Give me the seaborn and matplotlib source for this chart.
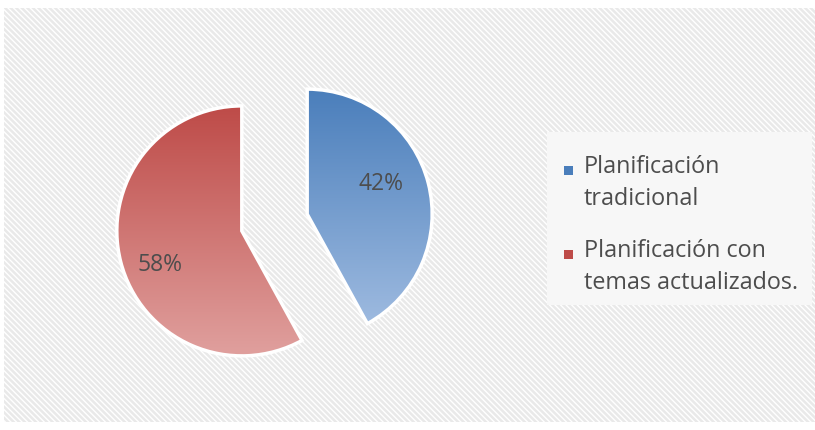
import numpy as np
import matplotlib
matplotlib.use("Agg")
import matplotlib.pyplot as plt
import seaborn as sns
from matplotlib.patches import Rectangle
from matplotlib.colors import LinearSegmentedColormap

sns.set_theme(style="white")
plt.rcParams['font.family'] = ['Open Sans', 'DejaVu Sans']
plt.rcParams['hatch.linewidth'] = 1.0

# datos
categorias = ['Planificación\ntradicional', 'Planificación con\ntemas actualizados.']
valores = [42, 58]
etiquetas = ['42%', '58%']
colores_top = ['#4a7ebb', '#be4b48']
colores_bottom = ['#a3bee2', '#e0a09e']

W, H = 815, 430
fig = plt.figure(figsize=(W / 100, H / 100), dpi=100)
fig.patch.set_facecolor('white')

# fondo rayado del area del grafico
fondo = Rectangle((4 / W, 8 / H), 811 / W, 414 / H, transform=fig.transFigure,
                  facecolor='#e9e9e9', edgecolor='white', hatch='\\\\\\\\\\\\', linewidth=0, zorder=-5)
fig.patches.append(fondo)

ax = fig.add_axes([99.5 / W, 32.5 / H, 350 / W, 350 / H])
ax.set_facecolor('none')
ax.set_zorder(2)

wedges, textos = ax.pie(valores, startangle=90, counterclock=False, explode=[0.27, 0.27],
                        colors=colores_top, wedgeprops=dict(edgecolor='white', linewidth=2.5))

# relleno degradado de cada porcion
for w, c1, c2 in zip(wedges, colores_top, colores_bottom):
    cmap = LinearSegmentedColormap.from_list('g', [c1, c2])
    x0, y0 = w.center
    grad = np.linspace(0, 1, 256).reshape(-1, 1)
    img = ax.imshow(grad, cmap=cmap, extent=[x0 - 1, x0 + 1, y0 - 1, y0 + 1],
                    origin='upper', aspect='auto', zorder=1)
    img.set_clip_path(w)
    w.set_facecolor('none')
    w.set_zorder(2)

ax.set_xlim(-1.4, 1.4)
ax.set_ylim(-1.4, 1.4)
ax.set_aspect('equal')
ax.axis('off')

# etiquetas de porcentaje
for w, txt, r in zip(wedges, etiquetas, [0.64, 0.71]):
    ang = np.deg2rad((w.theta1 + w.theta2) / 2 + 8)
    cx, cy = w.center
    ax.text(cx + r * np.cos(ang), cy + r * np.sin(ang), txt,
            ha='center', va='center', fontsize=16.5, color='#4d4d4d', zorder=3)

# leyenda
caja = Rectangle((547 / W, (H - 305) / H), 265 / W, 173 / H, transform=fig.transFigure,
                 facecolor='#f7f7f7', edgecolor='none', zorder=-4)
fig.patches.append(caja)
for i, (lab, c) in enumerate(zip(categorias, colores_top)):
    y0 = 173 + 84 * i
    fig.patches.append(Rectangle((564 / W, (H - y0 - 2) / H), 9 / W, 9 / H,
                                 transform=fig.transFigure, facecolor=c, edgecolor='none'))
    for j, linea in enumerate(lab.split('\n')):
        fig.text(584 / W, (H - y0 - 32 * j) / H, linea, ha='left', va='baseline',
                 fontsize=16.8, color='#4d4d4d')

fig.savefig('out.png', dpi=100)
